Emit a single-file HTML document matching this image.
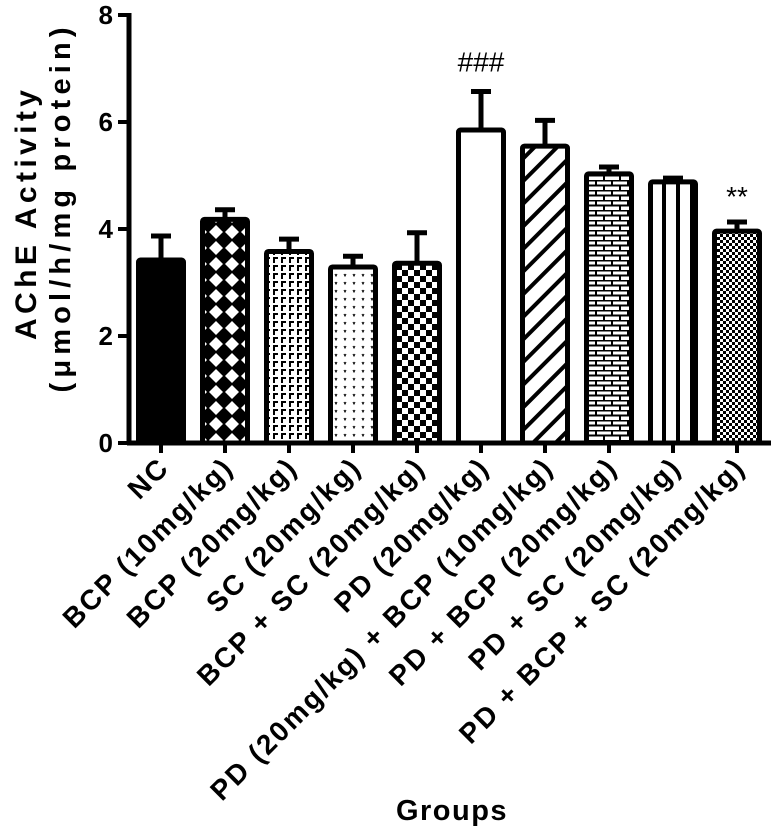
<!DOCTYPE html>
<html><head><meta charset="utf-8"><style>
body{margin:0;background:#fff}
svg text{font-family:"Liberation Sans",Arial,sans-serif;font-weight:bold;fill:#000}
</style></head><body>
<svg id="chart" width="774" height="831" viewBox="0 0 774 831" xmlns="http://www.w3.org/2000/svg">
<defs>
<pattern id="p1" width="16" height="16" patternUnits="userSpaceOnUse"><rect width="16" height="16" fill="#000"/><path d="M8 1 L15 8 L8 15 L1 8Z" fill="#fff"/></pattern>
<pattern id="p2" width="8" height="8" patternUnits="userSpaceOnUse"><rect width="8" height="8" fill="#fff"/><path d="M1 1h5v2H3v4H1z" fill="#000"/></pattern>
<pattern id="p3" width="9" height="8" patternUnits="userSpaceOnUse"><rect width="9" height="8" fill="#fff"/><path d="M2 2l1 2 1-2" stroke="#000" stroke-width="1" fill="none"/></pattern>
<pattern id="p4" width="12" height="12" patternUnits="userSpaceOnUse"><rect width="12" height="12" fill="#fff"/><rect width="6" height="6" fill="#000"/><rect x="6" y="6" width="6" height="6" fill="#000"/></pattern>
<pattern id="p6" width="16" height="16" patternUnits="userSpaceOnUse" patternTransform="rotate(45)"><rect width="16" height="16" fill="#fff"/><rect width="4" height="16" fill="#000"/></pattern>
<pattern id="p7" width="16" height="10" patternUnits="userSpaceOnUse"><rect width="16" height="10" fill="#fff"/><path d="M0 0.5h16M0 5.5h16M4 0v5M12 5v5" stroke="#000" stroke-width="2"/></pattern>
<pattern id="p8" width="14" height="10" patternUnits="userSpaceOnUse"><rect width="14" height="10" fill="#fff"/><rect x="4" width="4" height="10" fill="#000"/></pattern>
<pattern id="p9" width="6" height="6" patternUnits="userSpaceOnUse"><rect width="6" height="6" fill="#fff"/><rect width="3" height="3" fill="#000"/><rect x="3" y="3" width="3" height="3" fill="#000"/></pattern>
</defs>
<g id="plot"></g>
<text transform="translate(36,215) rotate(-90)" text-anchor="middle" font-size="30" textLength="250" lengthAdjust="spacing">AChE Activity</text>
<text transform="translate(70,210) rotate(-90)" text-anchor="middle" font-size="29" textLength="365" lengthAdjust="spacing">(μmol/h/mg protein)</text>
<text x="452" y="820" text-anchor="middle" font-size="29" letter-spacing="1.5">Groups</text>
</svg>
<script>
const categories=["NC","BCP (10mg/kg)","BCP (20mg/kg)","SC (20mg/kg)","BCP + SC (20mg/kg)","PD (20mg/kg)","PD (20mg/kg) + BCP (10mg/kg)","PD + BCP (20mg/kg)","PD + SC (20mg/kg)","PD + BCP + SC (20mg/kg)"];
const means=[3.42,4.18,3.58,3.29,3.36,5.85,5.55,5.03,4.88,3.96];
const errors=[0.45,0.18,0.23,0.2,0.57,0.72,0.48,0.13,0.07,0.17];
const annotations=["","","","","","###","","","","**"];
const yTicks=[0,2,4,6,8];
const fills=["#000","url(#p1)","url(#p2)","url(#p3)","url(#p4)","#fff","url(#p6)","url(#p7)","url(#p8)","url(#p9)"];
const NS="http://www.w3.org/2000/svg";
const g=document.getElementById('plot');
const y0=443,yTop=15,yMax=8;
const yS=v=>y0-(y0-yTop)*v/yMax;
const xS=i=>161+i*64;
const bw=45;
function mk(t,a,p){const e=document.createElementNS(NS,t);for(const k in a)e.setAttribute(k,a[k]);(p||g).appendChild(e);return e;}
let ax=mk('line',{x1:129,y1:yTop-2,x2:129,y2:y0+2,stroke:'#000','stroke-width':5});


let bx=mk('line',{x1:127,y1:y0,x2:771,y2:y0,stroke:'#000','stroke-width':5});


yTicks.forEach(v=>{
 const t=mk('line',{x1:118,y1:yS(v),x2:129,y2:yS(v),stroke:'#000','stroke-width':4});
 
 
 const l=mk('text',{x:113,y:yS(v)+9,'text-anchor':'end','font-size':26});
 l.textContent=v;
 
 
});
categories.forEach((c,i)=>{
 const x=xS(i),yt=yS(means[i]),ye=yS(means[i]+errors[i]);
 const el=mk('line',{x1:x,y1:yt,x2:x,y2:ye,stroke:'#000','stroke-width':5});
 
 
 const cap=mk('line',{x1:x-10,y1:ye,x2:x+10,y2:ye,stroke:'#000','stroke-width':5});
 
 
 const r=mk('rect',{x:x-bw/2,y:yt,width:bw,height:y0-yt,fill:fills[i],stroke:'#000','stroke-width':5,rx:2});
 
 
 const tk=mk('line',{x1:x,y1:y0,x2:x,y2:y0+10,stroke:'#000','stroke-width':4});
 
 
 const lb=mk('text',{transform:`translate(${x+10},${y0+26}) rotate(-45)`,'text-anchor':'end','font-size':28,'letter-spacing':2.2});
 lb.textContent=c;
 
 
 if(annotations[i]){
  const a=mk('text',{x:x,y:ye-(i==9?16:20),'text-anchor':'middle','font-size':28,style:'font-weight:normal'});
  a.textContent=annotations[i];
  
  
 }
});
</script>
</body></html>
